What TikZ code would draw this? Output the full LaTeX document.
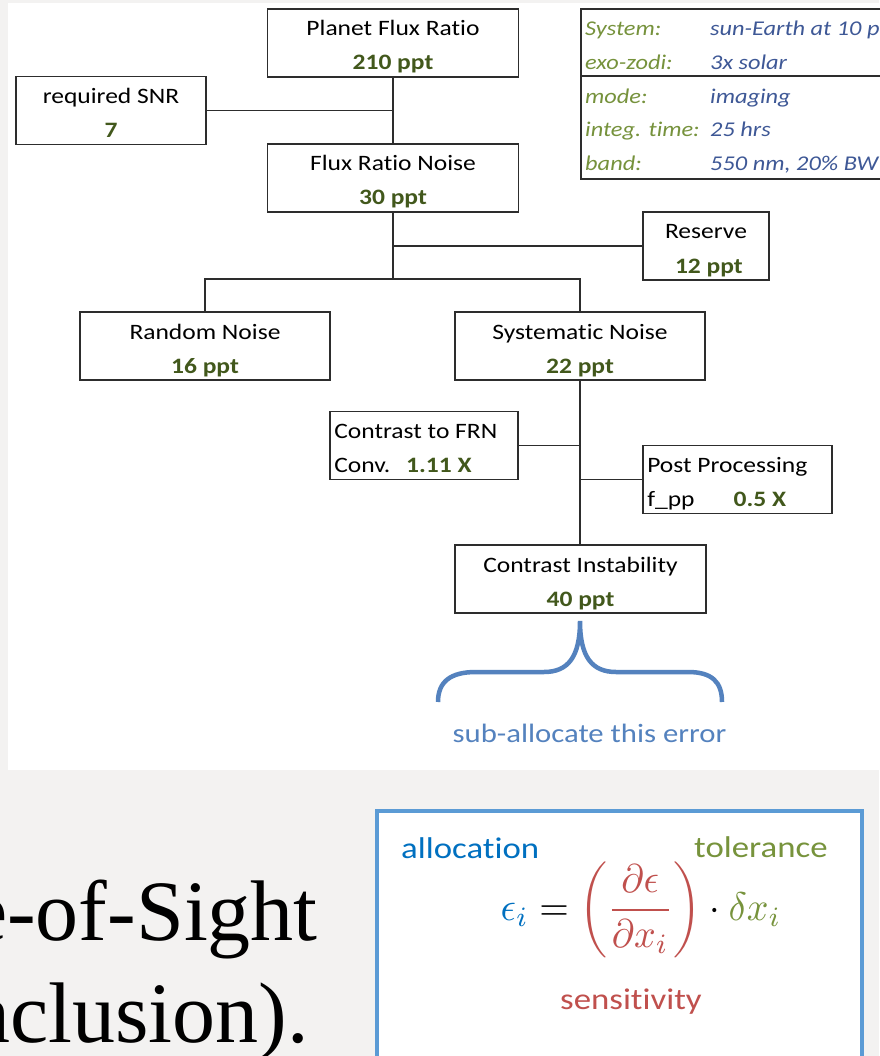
\documentclass[tikz,border=0pt]{standalone}
\usepackage{fontspec}
\usepackage{amsmath}
\usepackage{graphicx}
\newfontfamily\calib{Carlito}[FakeStretch=1.16, Ligatures={NoCommon}]
\newfontfamily\tnr{Liberation Serif}
\definecolor{bggray}{RGB}{243,242,241}
\definecolor{boxgray}{RGB}{45,45,45}
\definecolor{valgreen}{RGB}{66,88,28}
\definecolor{lblgreen}{RGB}{118,146,60}
\definecolor{valblue}{RGB}{62,88,150}
\definecolor{bracebl}{RGB}{84,130,190}
\definecolor{framebl}{RGB}{91,155,213}
\definecolor{alloc}{RGB}{0,112,192}
\definecolor{tol}{RGB}{119,147,60}
\definecolor{sens}{RGB}{192,80,77}
\tikzset{
  box/.style={draw=boxgray, line width=1.8pt, fill=white, inner sep=0pt, minimum height=68pt},
  txt/.style={inner sep=0pt, font=\calib\fontsize{22}{26}\selectfont, text=black},
  conn/.style={draw=boxgray, line width=1.8pt},
  tlbl/.style={anchor=base west, inner sep=0pt, font=\calib\itshape\fontsize{21}{24}\selectfont, text=lblgreen},
  tval/.style={anchor=base west, inner sep=0pt, font=\calib\itshape\fontsize{21}{24}\selectfont, text=valblue},
  eqlbl/.style={anchor=base west, inner sep=0pt, font=\calib\fontsize{30}{33}\selectfont},
}
\newcommand{\vv}[1]{\textbf{\color{valgreen}#1}}
% centred two-line text in box #1
\newcommand{\ctxt}[3]{%
  \node[txt, anchor=base] (#1-a) at ([yshift=7pt]#1.center) {#2};
  \node[txt, anchor=base] (#1-b) at ([yshift=-27pt]#1.center) {#3};}
% left-aligned two-line text in box #1
\newcommand{\ltxt}[3]{%
  \node[txt, anchor=base west] (#1-a) at ([xshift=5pt,yshift=7pt]#1.west) {#2};
  \node[txt, anchor=base west] (#1-b) at ([xshift=5pt,yshift=-26.5pt]#1.west) {#3};}
\begin{document}
\begin{tikzpicture}[x=1pt,y=1pt]
\useasboundingbox (0,0) rectangle (879,-1056);
\fill[bggray] (0,0) rectangle (879,-1056);
\fill[white] (8,-3) rectangle (879,-770);

% boxes
\node[box, minimum width=251pt] (pfr) at (393,-43) {};
\node[box, minimum width=190pt] (snr) at (111,-110.5) {};
\node[box, minimum width=251pt] (frn) at (393,-178) {};
\node[box, minimum width=126pt] (res) at (706,-246) {};
\node[box, minimum width=250pt] (rnd) at (205,-346) {};
\node[box, minimum width=250pt] (sys) at (580,-346) {};
\node[box, minimum width=188pt] (ctf) at (424,-445.5) {};
\node[box, minimum width=189pt] (pp) at (737.5,-479.5) {};
\node[box, minimum width=251pt] (ci) at (580.5,-579) {};

\ctxt{pfr}{Planet Flux Ratio}{\vv{210 ppt}}
\ctxt{snr}{required SNR}{\vv{7}}
\ctxt{frn}{Flux Ratio Noise}{\vv{30 ppt}}
\ctxt{res}{Reserve}{\vv{\ 12 ppt}}
\ctxt{rnd}{Random Noise}{\vv{16 ppt}}
\ctxt{sys}{Systematic Noise}{\vv{22 ppt}}
\ltxt{ctf}{Contrast to FRN}{Conv.\hspace{16pt}\vv{1.11 X}}
\ltxt{pp}{Post Processing}{f\_pp\hspace{39pt}\vv{0.5 X}}
\ctxt{ci}{Contrast Instability}{\vv{40 ppt}}

% connectors
\draw[conn] (pfr.south) -- (frn.north);
\draw[conn] (snr.east) -- (snr.east -| pfr.south);
\coordinate (split) at (frn.south |- 0,-279);
\draw[conn] (frn.south) -- (split);
\draw[conn] (res.west) -- (res.west -| frn.south);
\draw[conn] (rnd.north) |- (split) -| (sys.north);
\draw[conn] (sys.south) -- (sys.south |- ci.north);
\draw[conn] (ctf.east) -- (ctf.east -| sys.south);
\draw[conn] (pp.west) -- (pp.west -| sys.south);

% info table
\node[draw=boxgray, line width=1.8pt, fill=white, minimum width=330pt, minimum height=170pt, anchor=north west, inner sep=0pt] (tbl) at (580,-8) {};
\draw[conn] (tbl.west |- 0,-76) -- (tbl.east |- 0,-76);
\node[tlbl] (l1) at (585,-36) {System:};
\node[tval] (v1) at (710,-36) {sun-Earth at 10 pc};
\node[tlbl] (l2) at (585,-70) {exo-zodi:};
\node[tval] (v2) at (710,-70) {3x solar};
\node[tlbl] (l3) at (585,-104) {mode:};
\node[tval] (v3) at (710,-104) {imaging};
\node[tlbl] (l4) at (585,-137) {integ. time:};
\node[tval] (v4) at (710,-137) {25 hrs};
\node[tlbl] (l5) at (585,-171) {band:};
\node[tval] (v5) at (710,-171) {550 nm, 20\% BW};

% brace
\coordinate (btip) at (580,-621);
\draw[bracebl, line width=4.5pt, line cap=butt]
  (438,-702) .. controls (438,-682) and (450,-672) .. (476,-672) -- (544,-672)
  .. controls (568,-672) and (580,-657) .. (btip)
  .. controls (580,-657) and (592,-672) .. (616,-672) -- (688,-672)
  .. controls (712,-672) and (722,-682) .. (722,-702);
\node[anchor=base, inner sep=0pt, font=\calib\fontsize{26.5}{30}\selectfont, text=bracebl] (sub) at (589.5,-742) {sub-allocate this error};

% slide text
\node[anchor=base east, inner sep=0pt, font=\tnr\fontsize{86}{90}\selectfont] (s1) at (318,-940) {e-of-Sight};
\node[anchor=base east, inner sep=0pt, font=\tnr\fontsize{86}{90}\selectfont] (s2) at (309,-1042) {nclusion).};

% formula box
\draw[framebl, line width=3.5pt, fill=white] (377,-1070) -- (377,-811) -- (862,-811) -- (862,-1070);
\node[eqlbl, text=alloc] (al) at (401,-858) {allocation};
\node[eqlbl, text=tol] (tl) at (694,-857) {tolerance};
\node[eqlbl, text=sens] (se) at (560,-1009) {sensitivity};
\node[inner sep=0pt] (eq) at (641,-910) {\scalebox{3.8}[4.0]{%
  $\color{alloc}\epsilon_i\color{black} = {\color{sens}\left(\dfrac{\partial\epsilon}{\partial x_i}\right)}\color{black}\cdot{\color{tol}\delta x_i}$}};
\end{tikzpicture}
\end{document}
